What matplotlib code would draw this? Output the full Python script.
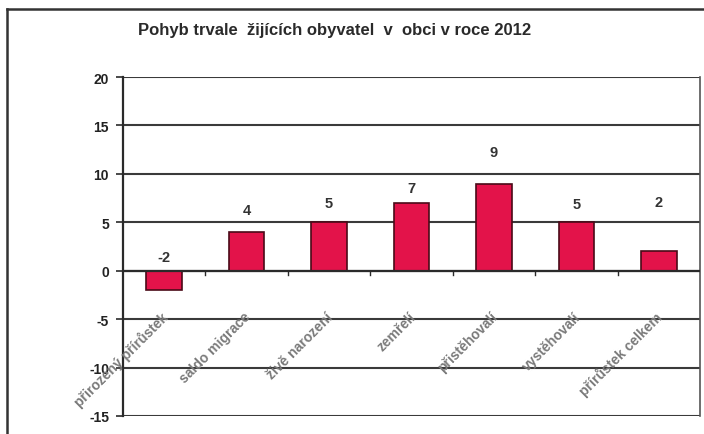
import matplotlib
matplotlib.use("Agg")
import matplotlib.pyplot as plt
from matplotlib.lines import Line2D

# data
kategorie = ["přirozený přírůstek", "saldo migrace", "živě narození", "zemřelí",
             "přistěhovalí", "vystěhovalí", "přírůstek celkem"]
hodnoty = [-2, 4, 5, 7, 9, 5, 2]
# where the value labels sit (they are not placed evenly in the original)
label_y = [1.4, 6.3, 7.0, 8.5, 12.3, 6.9, 7.1]
y_ticks = [20, 15, 10, 5, 0, -5, -10, -15]

plt.rcParams['font.family'] = ['Liberation Sans', 'DejaVu Sans']

fig = plt.figure(figsize=(7.04, 4.35), dpi=100)
ax = fig.add_axes([123/704, 18/435, 577/704, 339/435])

x = list(range(len(hodnoty)))
ax.bar(x, hodnoty, width=0.43, color='#e3134a', edgecolor='#4a0a18', linewidth=1.2, zorder=3)

# gridlines
for t in y_ticks:
    ax.axhline(t, color='#3a3a3a', linewidth=1.5, zorder=1)
ax.axhline(0, color='#2a2a2a', linewidth=1.6, zorder=4)

# little ticks on the category axis, between categories
for b in range(1, len(hodnoty)):
    ax.plot([b - 0.5, b - 0.5], [0, -0.45], color='#2a2a2a', linewidth=1.0, zorder=4)

ax.set_xlim(-0.5, len(hodnoty) - 0.5)
ax.set_ylim(-15, 20)
ax.set_yticks(y_ticks)
ax.set_yticklabels([str(t) for t in y_ticks], fontsize=10, fontweight='bold', color='#222222')
ax.tick_params(axis='y', direction='out', length=5, width=1.2, color='#2a2a2a', pad=5)
ax.set_xticks([])

for s in ['top', 'bottom']:
    ax.spines[s].set_visible(False)
ax.spines['left'].set_color('#2a2a2a')
ax.spines['left'].set_linewidth(1.6)
ax.spines['right'].set_color('#555555')
ax.spines['right'].set_linewidth(1.2)

# value labels
for i, v in enumerate(hodnoty):
    ax.text(i, label_y[i], str(v), ha='center', va='center', fontsize=10.5,
            fontweight='bold', color='#333333', zorder=5)

# rotated category labels
for i, k in enumerate(kategorie):
    ax.text(i + 0.02, -4.5, k, rotation=45, rotation_mode='anchor', ha='right', va='center',
            fontsize=10, fontweight='bold', color='#7a7a7a', zorder=5)

fig.text(335/704, 1 - 30/435, "Pohyb trvale  žijících obyvatel  v  obci v roce 2012",
         ha='center', va='center', fontsize=12, fontweight='bold', color='#2a2a2a')

# outer chart frame (left and top edge visible)
fig.add_artist(Line2D([7/704, 7/704], [0, 1 - 10/435], transform=fig.transFigure,
                      color='#333333', linewidth=1.8))
fig.add_artist(Line2D([7/704, 1], [1 - 10/435, 1 - 10/435], transform=fig.transFigure,
                      color='#333333', linewidth=1.8))

fig.savefig("out.png", dpi=100)
